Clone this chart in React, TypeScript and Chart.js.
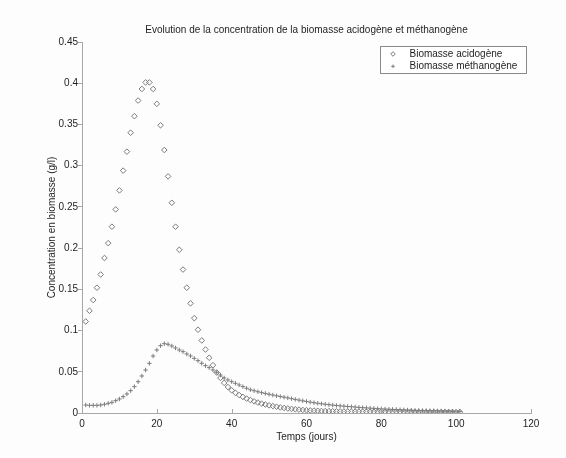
import React, { useEffect, useRef } from "react";
import { Chart, registerables } from "chart.js";

Chart.register(...registerables);

const chartTitle = "Evolution de la concentration de la biomasse acidogène et méthanogène";
const xAxisTitle = "Temps (jours)";
const yAxisTitle = "Concentration en biomasse (g/l)";
const seriesLabels = ["Biomasse acidogène", "Biomasse méthanogène"];

const xTicks = [0, 20, 40, 60, 80, 100, 120];
const yTicks = [0, 0.05, 0.1, 0.15, 0.2, 0.25, 0.3, 0.35, 0.4, 0.45];

const days = [
  1, 2, 3, 4, 5, 6, 7, 8, 9, 10,
  11, 12, 13, 14, 15, 16, 17, 18, 19, 20,
  21, 22, 23, 24, 25, 26, 27, 28, 29, 30,
  31, 32, 33, 34, 35, 36, 37, 38, 39, 40,
  41, 42, 43, 44, 45, 46, 47, 48, 49, 50,
  51, 52, 53, 54, 55, 56, 57, 58, 59, 60,
  61, 62, 63, 64, 65, 66, 67, 68, 69, 70,
  71, 72, 73, 74, 75, 76, 77, 78, 79, 80,
  81, 82, 83, 84, 85, 86, 87, 88, 89, 90,
  91, 92, 93, 94, 95, 96, 97, 98, 99, 100,
  101,
];

const acidogene = [
  0.111, 0.124, 0.137, 0.152, 0.168, 0.188, 0.206, 0.226, 0.247, 0.27,
  0.294, 0.317, 0.34, 0.36, 0.379, 0.393, 0.401, 0.401, 0.393, 0.375,
  0.349, 0.319, 0.287, 0.255, 0.226, 0.198, 0.174, 0.152, 0.133, 0.115,
  0.101, 0.088, 0.077, 0.067, 0.058, 0.049, 0.0425, 0.0365, 0.0315, 0.0275,
  0.0245, 0.0218, 0.0195, 0.0175, 0.0157, 0.0141, 0.0127, 0.0114, 0.0103, 0.0093,
  0.0084, 0.0076, 0.0068, 0.0061, 0.0055, 0.005, 0.0045, 0.0041, 0.0037, 0.0034,
  0.0031, 0.0029, 0.0027, 0.0025, 0.0023, 0.0022, 0.0021, 0.002, 0.0019, 0.0018,
  0.0018, 0.0017, 0.0017, 0.0017, 0.0016, 0.0016, 0.0016, 0.0015, 0.0015, 0.0015,
  0.0015, 0.0014, 0.0014, 0.0014, 0.0014, 0.0014, 0.0013, 0.0013, 0.0013, 0.0013,
  0.0013, 0.0013, 0.0012, 0.0012, 0.0012, 0.0012, 0.0012, 0.0012, 0.0012, 0.0011,
  0.0011,
];

const methanogene = [
  0.0097, 0.0093, 0.0093, 0.0093, 0.0097, 0.0105, 0.0117, 0.0129, 0.015, 0.017,
  0.0198, 0.0231, 0.0271, 0.032, 0.038, 0.0449, 0.0521, 0.0602, 0.0691, 0.0764,
  0.0817, 0.0841, 0.0833, 0.0813, 0.0789, 0.0764, 0.0744, 0.0716, 0.0692, 0.0663,
  0.0635, 0.0603, 0.0574, 0.055, 0.0522, 0.0493, 0.0461, 0.0425, 0.0401, 0.038,
  0.036, 0.034, 0.032, 0.03, 0.0282, 0.027, 0.0258, 0.0247, 0.0237, 0.0227,
  0.0218, 0.0209, 0.02, 0.0192, 0.0183, 0.0174, 0.0165, 0.0156, 0.0148, 0.014,
  0.0132, 0.0125, 0.0118, 0.0112, 0.0106, 0.0101, 0.0096, 0.0091, 0.0087, 0.0083,
  0.0079, 0.0076, 0.0072, 0.0068, 0.0065, 0.0062, 0.0059, 0.0056, 0.0053, 0.005,
  0.0048, 0.0046, 0.0044, 0.0042, 0.004, 0.0038, 0.0036, 0.0034, 0.0032, 0.003,
  0.0029, 0.0028, 0.0027, 0.0026, 0.0025, 0.0024, 0.0023, 0.0022, 0.0021, 0.0021,
  0.002,
];

const W = 566;
const H = 458;
const FONT = "'Liberation Sans', Arial, Helvetica, sans-serif";
const TEXT = "#1e1e1e";
const AXIS = "#a8a8a8";
const MARK = "#7c7c7c";

function drawMarker(ctx: CanvasRenderingContext2D, style: string, x: number, y: number, r: number) {
  ctx.beginPath();
  if (style === "rectRot") {
    ctx.moveTo(x, y - r);
    ctx.lineTo(x + r, y);
    ctx.lineTo(x, y + r);
    ctx.lineTo(x - r, y);
    ctx.closePath();
  } else {
    ctx.moveTo(x - r, y);
    ctx.lineTo(x + r, y);
    ctx.moveTo(x, y - r);
    ctx.lineTo(x, y + r);
  }
  ctx.stroke();
}

const decorPlugin = {
  id: "decor",
  beforeDraw(chart: any) {
    const ctx = chart.ctx;
    ctx.save();
    ctx.fillStyle = "#fdfdfd";
    ctx.fillRect(0, 0, chart.width, chart.height);
    ctx.restore();
  },
  afterDraw(chart: any) {
    const ctx: CanvasRenderingContext2D = chart.ctx;
    const area = chart.chartArea;
    const xs = chart.scales.x;
    ctx.save();
    // title centred over plot area
    ctx.fillStyle = TEXT;
    ctx.font = `10px ${FONT}`;
    ctx.textAlign = "center";
    ctx.textBaseline = "middle";
    ctx.fillText(chartTitle, (area.left + area.right) / 2, area.top - 12);
    // inward x ticks
    ctx.strokeStyle = AXIS;
    ctx.lineWidth = 1;
    ctx.beginPath();
    xTicks.forEach((v) => {
      if (v === 0) return;
      const px = Math.round(xs.getPixelForValue(v)) + 0.5;
      ctx.moveTo(px, area.bottom);
      ctx.lineTo(px, area.bottom - 4);
    });
    ctx.stroke();
    // legend box
    const bw = 146;
    const bh = 27;
    const bx = Math.round(area.right - 5 - bw) + 0.5;
    const by = Math.round(area.top + 4) + 0.5;
    ctx.fillStyle = "#ffffff";
    ctx.fillRect(bx, by, bw, bh);
    ctx.strokeStyle = "#8a8a8a";
    ctx.strokeRect(bx, by, bw, bh);
    ctx.textAlign = "left";
    chart.data.datasets.forEach((ds: any, i: number) => {
      const cy = by + 7.5 + i * 12.3;
      ctx.strokeStyle = ds.borderColor;
      ctx.lineWidth = 1;
      drawMarker(ctx, ds.pointStyle, bx + 12.5, cy, ds.pointStyle === "rectRot" ? 2.3 : 1.8);
      ctx.fillStyle = TEXT;
      ctx.fillText(ds.label, bx + 29, cy);
    });
    ctx.restore();
  },
};

export default function App() {
  const ref = useRef<HTMLCanvasElement | null>(null);

  useEffect(() => {
    document.body.style.margin = "0";
    const canvas = ref.current;
    if (!canvas) return;
    const chart = new Chart(canvas, {
      type: "scatter",
      data: {
        datasets: [
          {
            label: seriesLabels[0],
            data: days.map((d, i) => ({ x: d, y: acidogene[i] })),
            pointStyle: "rectRot",
            pointRadius: 2.8,
            borderColor: MARK,
            backgroundColor: "rgba(0,0,0,0)",
            borderWidth: 1,
            showLine: false,
          },
          {
            label: seriesLabels[1],
            data: days.map((d, i) => ({ x: d, y: methanogene[i] })),
            pointStyle: "cross",
            pointRadius: 2.2,
            borderColor: MARK,
            backgroundColor: "rgba(0,0,0,0)",
            borderWidth: 1,
            showLine: false,
          },
        ],
      },
      options: {
        responsive: false,
        animation: false,
        devicePixelRatio: 1,
        layout: { padding: { left: 0, right: 35, top: 42, bottom: 0 } },
        plugins: {
          legend: { display: false },
          title: { display: false },
          tooltip: { enabled: false },
        },
        scales: {
          x: {
            type: "linear",
            position: "bottom",
            min: 0,
            max: 120,
            afterBuildTicks: (s: any) => {
              s.ticks = xTicks.map((v) => ({ value: v }));
            },
            afterFit: (s: any) => {
              s.height = 45;
            },
            grid: { display: true, drawOnChartArea: false, drawTicks: false },
            border: { display: true, color: AXIS, width: 1 },
            ticks: {
              padding: 5,
              color: TEXT,
              font: { size: 10, family: FONT },
              maxRotation: 0,
              callback: (v: any) => String(v),
            },
            title: {
              display: true,
              text: xAxisTitle,
              color: TEXT,
              font: { size: 10, family: FONT },
              padding: { top: 0, bottom: 15 },
            },
          },
          y: {
            type: "linear",
            position: "left",
            min: 0,
            max: 0.45,
            afterBuildTicks: (s: any) => {
              s.ticks = yTicks.map((v) => ({ value: v }));
            },
            afterFit: (s: any) => {
              s.width = 82;
            },
            grid: { display: true, drawOnChartArea: false, drawTicks: true, tickLength: 4, color: AXIS },
            border: { display: true, color: AXIS, width: 1 },
            ticks: {
              padding: 0,
              color: TEXT,
              font: { size: 10, family: FONT },
              callback: (v: any) => String(Number(Number(v).toFixed(2))),
            },
            title: {
              display: true,
              text: yAxisTitle,
              color: TEXT,
              font: { size: 10, family: FONT },
              padding: { top: 46, bottom: 0 },
            },
          },
        },
      },
      plugins: [decorPlugin],
    } as any);
    return () => chart.destroy();
  }, []);

  return (
    <div style={{ width: W, height: H }}>
      <canvas ref={ref} width={W} height={H} style={{ display: "block", width: W, height: H }} />
    </div>
  );
}
